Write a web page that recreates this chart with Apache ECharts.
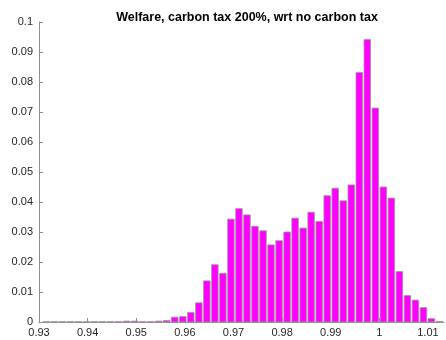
<!DOCTYPE html>
<html>
<head>
<meta charset="utf-8">
<script src="https://cdn.jsdelivr.net/npm/echarts@6/dist/echarts.min.js"></script>
<style>
  html, body { margin: 0; padding: 0; background: #fff; }
  #chart { width: 446px; height: 340px; }
</style>
</head>
<body>
<div id="chart"></div>
<script>
// Histogram of welfare ratios (probability-normalised bins)
const titleText = 'Welfare, carbon tax 200%, wrt no carbon tax';
const firstEdge = 0.9307;
const binWidth = 0.00165;
const binHeights = [
  0.0001, 0.0001, 0.0001, 0.0001, 0.0001, 0.0001, 0.0001, 0.0001, 0.0001, 0.0001,
  0.0003, 0.0003, 0.0001, 0.0001,
  0.0003, 0.0005, 0.0016, 0.0018, 0.0032, 0.0064, 0.0137, 0.0191, 0.0162,
  0.0343, 0.0378, 0.0357, 0.0319, 0.0304, 0.0257, 0.0271, 0.0300, 0.0346,
  0.0313, 0.0366, 0.0335, 0.0421, 0.0446, 0.0404, 0.0457, 0.0832, 0.0942, 0.0713,
  0.0450, 0.0413, 0.0168, 0.0088, 0.0073, 0.0048, 0.0011, 0.0002
];
const xMin = 0.93, xMax = 1.0133, xStep = 0.01;
const yMin = 0, yMax = 0.1, yStep = 0.01;

const bins = binHeights.map((h, i) => [firstEdge + i * binWidth, firstEdge + (i + 1) * binWidth, h]);

const axisGrey = '#8f8f8f';
const labelColor = '#262626';
const fontFamily = 'Liberation Sans, Helvetica, Arial, sans-serif';

const chart = echarts.init(document.getElementById('chart'), null, { renderer: 'canvas' });
chart.setOption({
  animation: false,
  backgroundColor: '#ffffff',
  title: {
    text: titleText,
    left: 242, top: 6, textAlign: 'center',
    textStyle: { fontFamily, fontSize: 12.5, fontWeight: 'bold', color: '#000' }
  },
  grid: { left: 39, right: 2, top: 22, bottom: 18 },
  xAxis: {
    type: 'value', min: xMin, max: xMax, interval: xStep,
    axisLine: { show: true, lineStyle: { color: axisGrey, width: 1 } },
    axisTick: { show: true, inside: true, length: 4, lineStyle: { color: axisGrey } },
    axisLabel: { showMaxLabel: false, color: labelColor, fontFamily, fontSize: 11, margin: 5,
      formatter: v => String(Math.round(v * 100) / 100) },
    splitLine: { show: false }
  },
  yAxis: {
    type: 'value', min: yMin, max: yMax, interval: yStep,
    axisLine: { show: true, lineStyle: { color: axisGrey, width: 1 } },
    axisTick: { show: true, inside: true, length: 4, lineStyle: { color: axisGrey } },
    axisLabel: { color: labelColor, fontFamily, fontSize: 11, margin: 6,
      formatter: v => String(Math.round(v * 100) / 100) },
    splitLine: { show: false }
  },
  series: [{
    type: 'custom',
    data: bins,
    encode: { x: [0, 1], y: 2 },
    renderItem: function (params, api) {
      const topLeft = api.coord([api.value(0), api.value(2)]);
      const bottomRight = api.coord([api.value(1), 0]);
      const w = bottomRight[0] - topLeft[0];
      const inset = w * 0.09;
      return {
        type: 'rect',
        shape: {
          x: topLeft[0] + inset,
          y: topLeft[1],
          width: w - 2 * inset,
          height: bottomRight[1] - topLeft[1]
        },
        style: { fill: '#ff00ff', stroke: '#9a9a9a', lineWidth: 0.8 }
      };
    }
  }]
});
</script>
</body>
</html>
